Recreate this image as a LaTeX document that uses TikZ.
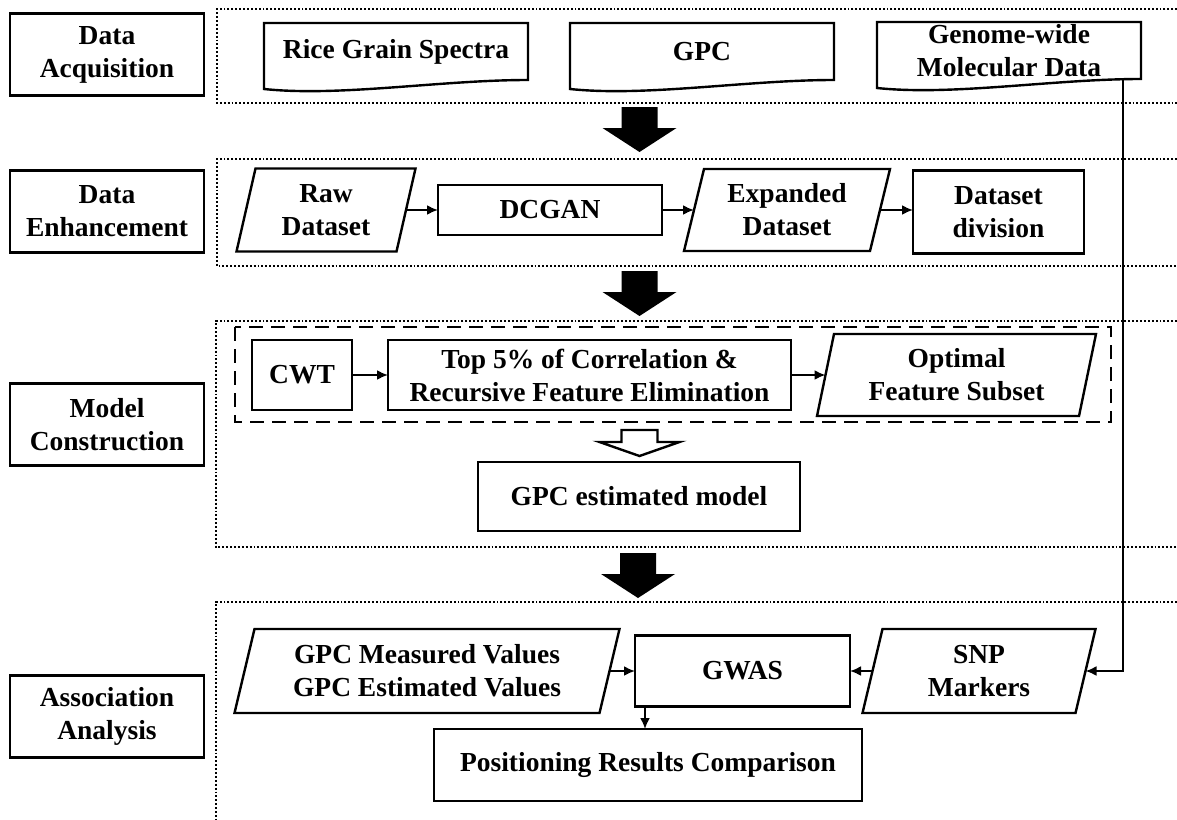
\documentclass[tikz,border=0pt]{standalone}
\usepackage{fontspec}
\setmainfont{Liberation Serif}
\usetikzlibrary{calc,positioning,arrows.meta}

% parallelogram round a named node
\newcommand{\slantbox}[2]{\draw[boxline] ([xshift=-#2]#1.south west) -- ([xshift=#2]#1.north west) -- ([xshift=#2]#1.north east) -- ([xshift=-#2]#1.south east) -- cycle;}
% document shape round a named node
\newcommand{\docbox}[1]{\draw[boxline] (#1.north west) -- (#1.north east) -- (#1.south east) .. controls ($(#1.south east)+(-88,0)$) and ($(#1.south west)+(76,17)$) .. ($(#1.south west)+(0,9)$) -- cycle;}

\tikzset{
  boxline/.style={line width=2.4pt},
  stagebox/.style={draw,boxline,minimum width=194,minimum height=82,align=center,inner sep=2pt,outer sep=0pt},
  plainbox/.style={draw,boxline,align=center,inner sep=2pt,outer sep=0pt},
  textbox/.style={align=center,inner sep=2pt,outer sep=0pt},
  area/.style={dotted,line width=1.9pt},
  flow/.style={line width=2pt,-{Latex[length=11pt,width=10pt]}},
  pics/bigdown/.style={code={\path[pic actions] (-18,0) -- (18,0) -- (18,21) -- (37,21) -- (0,45) -- (-37,21) -- (-18,21) -- cycle;}},
  pics/hollowdown/.style={code={\path[pic actions] (-18,0) -- (18,0) -- (18,12) -- (40,12) -- (0,26) -- (-40,12) -- (-18,12) -- cycle;}}
}

\begin{document}
\begin{tikzpicture}[x=1pt,y=-1pt,font=\fontsize{27.5}{33}\selectfont\bfseries]
\useasboundingbox (0,0) rectangle (1177,819);

% stage areas
\draw[area] (1177,9) -- (217,9) -- (217,103) -- (1177,103);
\draw[area] (1177,159) -- (217,159) -- (217,266) -- (1177,266);
\draw[area] (1177,321) -- (216,321) -- (216,547) -- (1177,547);
\draw[area] (1177,602) -- (216,602) -- (216,819);

% stage labels
\node (acq) at (107,54.5) [stagebox] {Data\\Acquisition};
\node (enh) at (107,211.5) [stagebox] {Data\\Enhancement};
\node (mod) at (107,424.5) [stagebox] {Model\\Construction};
\node (asso) at (107,716.5) [stagebox] {Association\\Analysis};

% data acquisition
\node (rice) at (396,51.5) [textbox,minimum width=264,minimum height=57] {Rice Grain Spectra};
\node (gpc) at (702,51.5) [textbox,minimum width=264,minimum height=57] {GPC};
\node (genome) at (1009,50.5) [textbox,minimum width=264,minimum height=57] {Genome-wide\\Molecular Data};
\docbox{rice}
\docbox{gpc}
\docbox{genome}

\pic[fill=black] at (639.5,107) {bigdown};

% data enhancement
\node (raw) at (326,210) [textbox,minimum width=160,minimum height=83] {Raw\\Dataset};
\node (dcgan) at (550,210) [plainbox,minimum width=224,minimum height=50] {DCGAN};
\node (expd) at (787,210) [textbox,minimum width=186,minimum height=82] {Expanded\\Dataset};
\node (div) at (998.5,212) [plainbox,minimum width=171,minimum height=83] {Dataset\\division};
\slantbox{raw}{9.5pt}
\slantbox{expd}{10pt}
\draw[flow] (raw.east) -- (dcgan.west);
\draw[flow] (dcgan.east) -- (expd.west);
\draw[flow] (expd.east) -- (expd.east -| div.west);

\pic[fill=black] at (639.5,271) {bigdown};

% model construction
\draw[line width=2.2pt,dash pattern=on 14pt off 8pt] (235,327) rectangle (1111,422);
\node (cwt) at (302,375) [plainbox,minimum width=100,minimum height=70] {CWT};
\node (rfe) at (589.5,375) [plainbox,minimum width=403,minimum height=70] {Top 5\% of Correlation \&\\Recursive Feature Elimination};
\node (opt) at (956.5,375) [textbox,minimum width=262,minimum height=82] {Optimal\\Feature Subset};
\slantbox{opt}{8.5pt}
\draw[flow] (cwt.east) -- (rfe.west);
\draw[flow] (rfe.east) -- (opt.west);
\pic[draw,boxline,fill=white] at (639.5,430) {hollowdown};
\node (est) at (639,496.5) [plainbox,minimum width=322,minimum height=69] {GPC estimated model};

\pic[fill=black] at (638,553) {bigdown};

% association analysis
\node (meas) at (427,671) [textbox,minimum width=365,minimum height=84] {GPC Measured Values\\GPC Estimated Values};
\node (gwas) at (742.5,671) [plainbox,minimum width=215,minimum height=71] {GWAS};
\node (snp) at (979,671) [textbox,minimum width=213,minimum height=84] {SNP\\Markers};
\node (pos) at (648,765) [plainbox,minimum width=428,minimum height=72] {Positioning Results Comparison};
\slantbox{meas}{10pt}
\slantbox{snp}{10pt}
\draw[flow] (meas.east) -- (gwas.west);
\draw[flow] (snp.west) -- (gwas.east);
\draw[flow] ([xshift=-18pt]genome.south east) |- (snp.east);
\coordinate (gw) at ([xshift=10pt]gwas.south west);
\draw[flow] (gw) -- (gw |- pos.north);

\end{tikzpicture}
\end{document}
